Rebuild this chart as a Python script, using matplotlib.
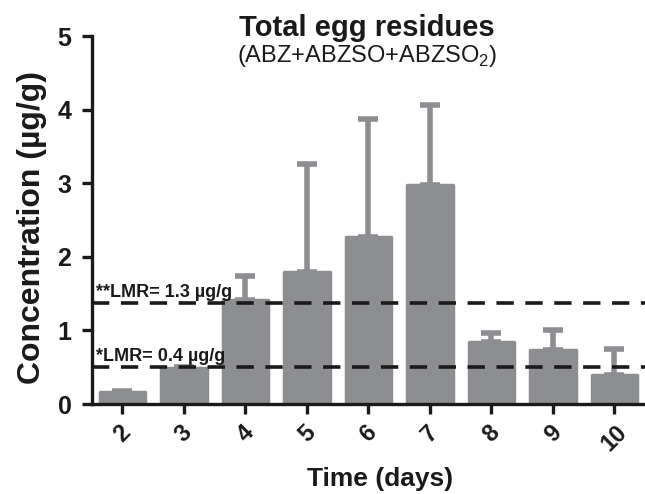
import matplotlib
matplotlib.use("Agg")
import matplotlib.pyplot as plt

days = ["2", "3", "4", "5", "6", "7", "8", "9", "10"]
means = [0.17, 0.49, 1.41, 1.80, 2.27, 2.97, 0.85, 0.73, 0.39]
upper = [0.18, 0.50, 1.74, 3.26, 3.88, 4.06, 0.97, 1.00, 0.75]
lmr_values = [1.37, 0.50]
lmr_labels = ["**LMR= 1.3 µg/g", "*LMR= 0.4 µg/g"]

plt.rcParams['font.family'] = ['Liberation Sans', 'DejaVu Sans']
plt.rcParams['mathtext.fontset'] = 'custom'
plt.rcParams['mathtext.rm'] = 'Liberation Sans'

fig = plt.figure(figsize=(6.45, 4.94), dpi=100)
ax = fig.add_axes([0.143, 0.182, 0.857, 0.745])

gray = "#8d8e91"
ink = "#1a1a1a"
x = list(range(len(days)))
errs = [max(u - m, 0) for u, m in zip(upper, means)]
ax.bar(x, means, width=0.74, color=gray, edgecolor=gray, linewidth=2.5,
       joinstyle='round', zorder=2)
ax.errorbar(x, means, yerr=[[0]*len(x), errs], fmt='none', ecolor=gray,
            elinewidth=4, capsize=7.5, capthick=4, zorder=1)

for v, lab in zip(lmr_values, lmr_labels):
    ax.axhline(v, color=ink, linestyle=(0, (4.8, 3.2)), linewidth=2.6, zorder=3)
    ax.text(0.007, v + 0.08, lab, fontsize=13, fontweight='bold',
            color=ink, ha='left', va='baseline', zorder=4,
            transform=ax.get_yaxis_transform())

ax.set_xlim(-0.49, 8.5)
ax.set_ylim(0, 5)
ax.set_xticks(x)
ax.set_xticklabels(days, rotation=45, ha='center', fontsize=17, fontweight='bold')
ax.set_yticks([0, 1, 2, 3, 4, 5])
ax.set_yticklabels(["0", "1", "2", "3", "4", "5"], fontsize=18, fontweight='bold')

for s in ['top', 'right']:
    ax.spines[s].set_visible(False)
for s in ['left', 'bottom']:
    ax.spines[s].set_linewidth(2.4)
    ax.spines[s].set_color(ink)
ax.tick_params(axis='both', length=7, width=2.4, color=ink, labelcolor=ink)
ax.tick_params(axis='y', pad=8)
ax.tick_params(axis='x', pad=5)

ax.set_ylabel("Concentration (µg/g)", fontsize=23, fontweight='bold', color=ink)
ax.yaxis.set_label_coords(-0.082, 0.48)
ax.set_xlabel("Time (days)", fontsize=19, fontweight='bold', color=ink)
ax.xaxis.set_label_coords(0.52, -0.172)

fig.text(0.569, 1 - 36/494, "Total egg residues", fontsize=21, fontweight='bold',
         ha='center', va='baseline', color=ink)
fig.text(0.569, 1 - 62/494, r"(ABZ+ABZSO+ABZSO$_2$)", fontsize=17,
         ha='center', va='baseline', color=ink)

fig.savefig("out.png", dpi=100)
